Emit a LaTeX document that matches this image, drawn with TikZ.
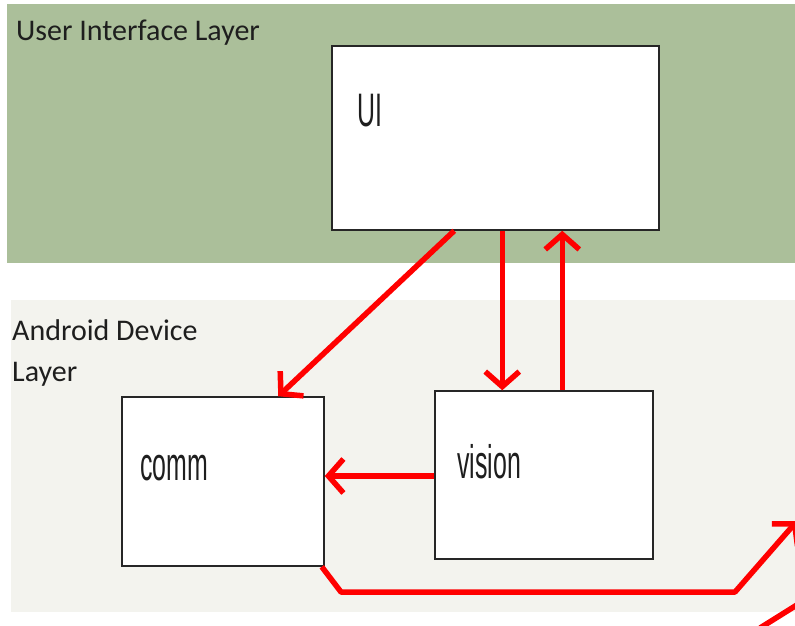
\documentclass[tikz,border=0pt]{standalone}
\usepackage{fontspec}
\setmainfont{Carlito}
\newfontfamily\narrowfont[FakeStretch=0.53]{Liberation Sans}
\usetikzlibrary{arrows.meta}
\definecolor{uigreen}{RGB}{171,191,154}
\definecolor{devbg}{RGB}{243,243,238}
\definecolor{txt}{RGB}{30,30,30}
\tikzset{
  box/.style={draw=black!85, line width=1.5pt, fill=white, rectangle, inner sep=0pt},
  layerlabel/.style={anchor=base west, inner sep=0pt, text=txt, font=\fontsize{30}{41}\selectfont, align=left},
  boxlabel/.style={anchor=base west, inner sep=0pt, text=txt, font=\narrowfont\fontsize{47}{50}\selectfont},
  redarrow/.style={draw=red, line width=5.5pt, line join=round, -{Straight Barb[length=15pt,width=34pt,line width=5.5pt]}},
  redline/.style={draw=red, line width=5.5pt, line join=round}
}
\begin{document}
\begin{tikzpicture}[x=1pt,y=-1pt]
\useasboundingbox (0,0) rectangle (795,625);
\fill[white] (0,0) rectangle (795,625);
% layer bands
\fill[uigreen] (7,4) rectangle (800,263);
\fill[devbg] (11,300) rectangle (800,612);
% layer labels
\node[layerlabel] (uil) at (16,40) {User Interface Layer};
\node[layerlabel] (devl) at (12,381) {Android Device\\Layer};
% boxes
\node[box, minimum width=327pt, minimum height=184pt] (ui) at (495.5,138) {};
\node[box, minimum width=202pt, minimum height=169pt] (comm) at (223,481.5) {};
\node[box, minimum width=218pt, minimum height=168pt] (vision) at (544,475) {};
% box labels
\node[boxlabel] (uit) at (357,126) {UI};
\node[boxlabel] (commt) at (140,480) {comm};
\node[boxlabel] (visiont) at (457,478) {vision};
% free ends
\coordinate (bend1) at (341,592);
\coordinate (bend2) at (735,592);
\coordinate (outtip) at (797,521);
\coordinate (fragA) at (760,628);
\coordinate (fragB) at (800,603);
% connectors
\draw[redarrow] ([xshift=123pt]ui.south west) -- ([xshift=157pt]comm.north west);
\draw[redarrow] ([xshift=171pt]ui.south west) -- ([xshift=68pt]vision.north west);
\draw[redarrow] ([xshift=128pt]vision.north west) -- ([xshift=231pt]ui.south west);
\draw[redarrow] ([yshift=-1pt]vision.west) -- ([yshift=-1pt]vision.west -| comm.east);
\draw[redarrow] ([xshift=-3pt]comm.south east) -- (bend1) -- (bend2) -- (outtip);
\draw[redline] (fragA) -- (fragB);
\end{tikzpicture}
\end{document}
